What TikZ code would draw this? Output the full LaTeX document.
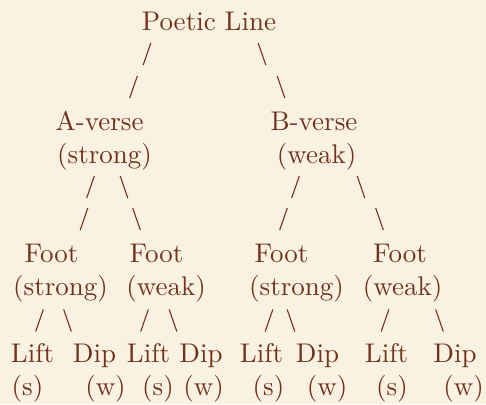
\documentclass[tikz,border=0pt]{standalone}
\usepackage{fontspec}
\newfontfamily\treefont{lmroman10-regular.otf}
\definecolor{parchment}{HTML}{FAF2E1}
\definecolor{ink}{HTML}{72321F}
\tikzset{
  lbl/.style={inner sep=0pt,anchor=base,text=ink,font=\treefont\fontsize{27}{30}\selectfont},
  tick/.style={draw=ink,line width=1.1pt}
}
\begin{document}
\begin{tikzpicture}[x=1pt,y=-1pt]
  \fill[parchment] (0,0) rectangle (486,404);
  \useasboundingbox (0,0) rectangle (486,404);
  % top
  \node[lbl] (line) at (209,30.5) {Poetic Line};
  % verses
  \node[lbl] (averse) at (99.5,130.7) {A-verse};
  \node[lbl] (astrong) at (104.5,163.3) {(strong)};
  \node[lbl] (bverse) at (314,130.7) {B-verse};
  \node[lbl] (bweak) at (316.5,163.3) {(weak)};
  % feet
  \node[lbl] (foota) at (51.5,262.7) {Foot};
  \node[lbl] (footb) at (156.5,262.7) {Foot};
  \node[lbl] (footc) at (281.5,262.7) {Foot};
  \node[lbl] (footd) at (400,262.7) {Foot};
  \node[lbl] (stronga) at (60.5,295) {(strong)};
  \node[lbl] (weakb) at (166,295) {(weak)};
  \node[lbl] (strongc) at (296.5,295) {(strong)};
  \node[lbl] (weakd) at (402.5,295) {(weak)};
  % lifts and dips
  \node[lbl] (lifta) at (32.5,362.3) {Lift};
  \node[lbl] (dipa) at (94.5,362.3) {Dip};
  \node[lbl] (liftb) at (148.5,362.3) {Lift};
  \node[lbl] (dipb) at (201,362.3) {Dip};
  \node[lbl] (liftc) at (261.5,362.3) {Lift};
  \node[lbl] (dipc) at (317.5,362.3) {Dip};
  \node[lbl] (liftd) at (386.5,362.3) {Lift};
  \node[lbl] (dipd) at (455,362.3) {Dip};
  \node[lbl] (sa) at (27.5,395.7) {(s)};
  \node[lbl] (wa) at (105.5,395.7) {(w)};
  \node[lbl] (sb) at (158,395.7) {(s)};
  \node[lbl] (wb) at (203.5,395.7) {(w)};
  \node[lbl] (sc) at (268.5,395.7) {(s)};
  \node[lbl] (wc) at (327,395.7) {(w)};
  \node[lbl] (sd) at (392,395.7) {(s)};
  \node[lbl] (wd) at (463.5,395.7) {(w)};
  % slashes: / goes up to the right, \ goes down to the right
  \foreach \x/\y in {147/54,133.5/87,90.5/187,84/219,295.5/187,283.5/219,39.5/320.5,144.5/320.5,269/320.5,385/320.5}
    \draw[tick] (\x,\y) ++(-3.8,11) -- ++(7.6,-22);
  \foreach \x/\y in {262/54,281/87,124/187,136.5/219,361/187,379.5/219,67.5/320.5,173/320.5,291/320.5,439.5/320.5}
    \draw[tick] (\x,\y) ++(-3.8,-11) -- ++(7.6,22);
\end{tikzpicture}
\end{document}
